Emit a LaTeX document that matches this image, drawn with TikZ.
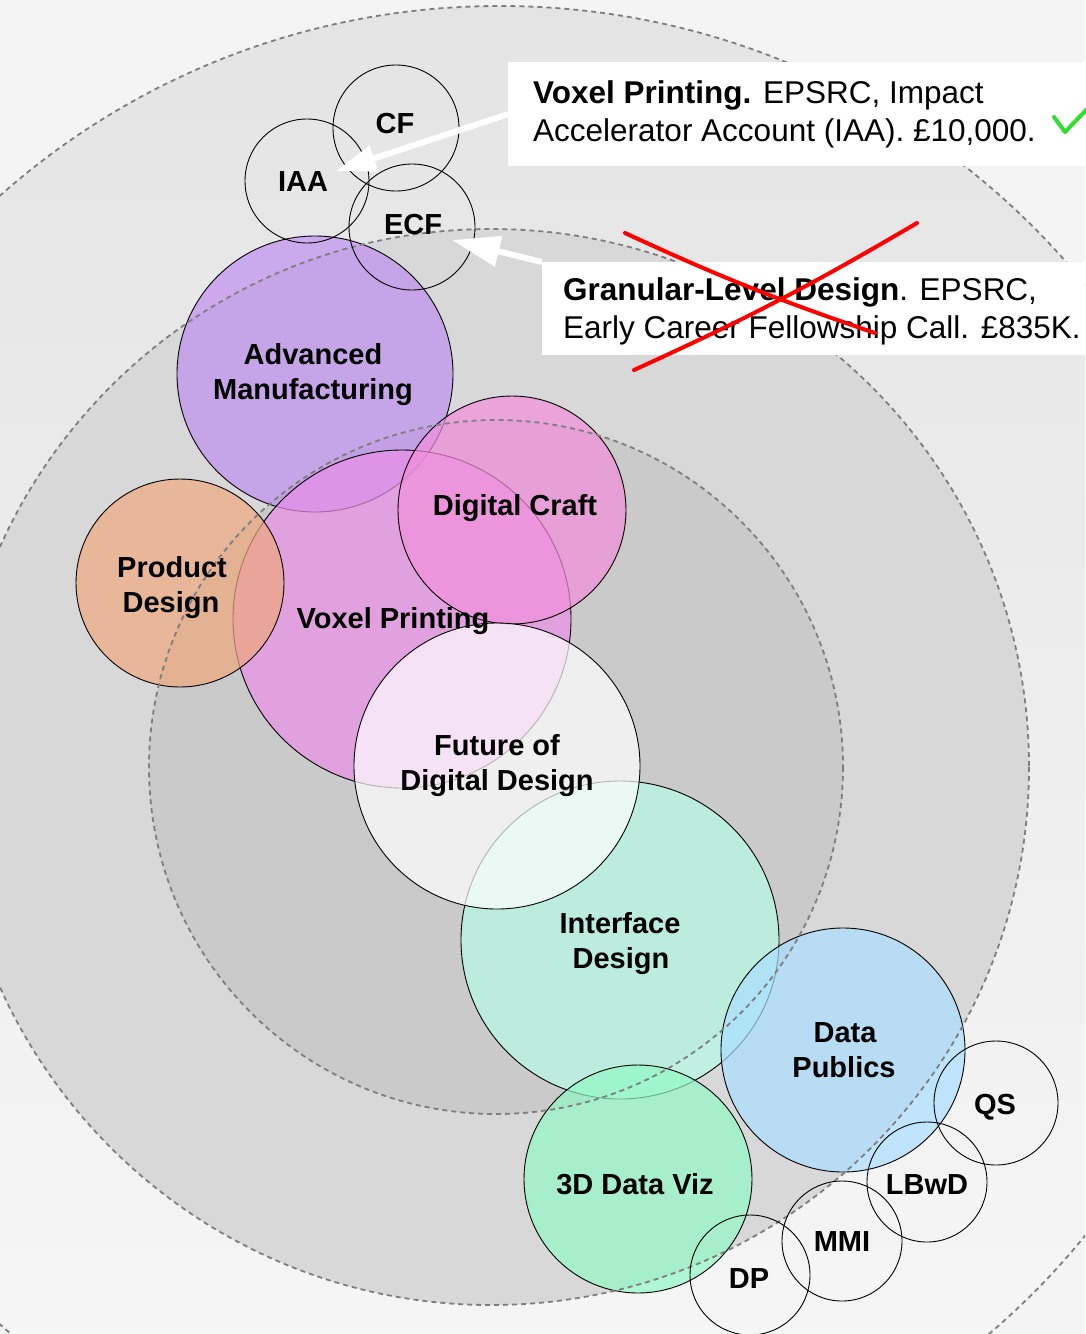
\documentclass[tikz,border=0pt]{standalone}
\usepackage{fontspec}
\setmainfont{Liberation Sans}
\usetikzlibrary{arrows.meta}
\definecolor{bgc}{HTML}{F4F4F4}
\definecolor{ringtop}{HTML}{E4E4E4}
\definecolor{ringbot}{HTML}{F8F8F8}
\definecolor{ringB}{HTML}{D8D8D8}
\definecolor{ringC}{HTML}{CACACA}
\definecolor{dashc}{HTML}{7E7E7E}
\definecolor{amc}{HTML}{BF8FEF}
\definecolor{dcc}{HTML}{F28FDC}
\definecolor{pdc}{HTML}{EFA87D}
\definecolor{vpc}{HTML}{EB90E8}
\definecolor{idc}{HTML}{B5FBE6}
\definecolor{dpc}{HTML}{A9DFFF}
\definecolor{dvc}{HTML}{92F9C5}
\definecolor{checkc}{HTML}{2EE02E}
\tikzset{
  blob/.style={circle, draw=black, line width=0.9pt, inner sep=0pt, fill opacity=0.7},
  ring/.style={draw=dashc, line width=1.8pt, dash pattern=on 5pt off 4pt},
  lab/.style={font=\fontsize{29}{35}\selectfont\bfseries, anchor=base, inner sep=0pt},
  calltext/.style={font=\fontsize{31.5}{38}\selectfont, anchor=base west, inner sep=0pt},
  callbox/.style={fill=white, inner sep=0pt, anchor=north west},
  whitearrow/.style={draw=white, line width=6pt},
  cross/.style={draw=red, line width=4pt, line cap=round}
}
\begin{document}
\begin{tikzpicture}[x=1pt,y=-1pt]
\useasboundingbox (0,0) rectangle (1085,1334);
\fill[bgc] (0,0) rectangle (1085,1334);
\begin{scope}
  \clip (0,0) rectangle (1085,1334);
  \shade[top color=ringtop, bottom color=ringbot] (500,760) circle[radius=754];
  \fill[ringB] (491,767) circle[radius=538];
  \fill[ringC] (496,767) circle[radius=347];
\end{scope}

% coloured circles
\node[blob, fill=amc, minimum size=276pt] (am) at (315,374) {};
\node[blob, fill=vpc, minimum size=338pt] (vp) at (402,619) {};
\node[blob, fill=dcc, minimum size=228pt] (dc) at (512,510) {};
\node[blob, fill=pdc, minimum size=208pt] (pd) at (180,583) {};
\node[blob, fill=idc, minimum size=318pt] (id) at (620,940) {};
\node[blob, fill=white, minimum size=286pt] (fd) at (497,766) {};
\node[blob, fill=dpc, minimum size=244pt] (dp) at (843,1050) {};
\node[blob, fill=dvc, minimum size=228pt] (dv) at (638,1179) {};

% dashed rings
\begin{scope}
  \clip (0,0) rectangle (1085,1334);
  \draw[ring] (500,760) circle[radius=754];
  \draw[ring] (491,767) circle[radius=538];
  \draw[ring] (496,767) circle[radius=347];
\end{scope}

% outline-only circles
\node[blob, minimum size=126pt] (cf) at (396,128) {};
\node[blob, minimum size=124pt] (iaa) at (307,181) {};
\node[blob, minimum size=126pt] (ecf) at (412,227) {};
\node[blob, minimum size=124pt] (qs) at (996,1103) {};
\node[blob, minimum size=120pt] (lb) at (927,1182) {};
\node[blob, minimum size=120pt] (mmi) at (842,1241) {};
\node[blob, minimum size=120pt] (dpp) at (750,1275) {};

% labels
\node[lab] (tcf) at (395,133) {CF};
\node[lab] (tiaa) at (303,191) {IAA};
\node[lab] (tecf) at (413,234) {ECF};
\node[lab] (tam1) at (313,364) {Advanced};
\node[lab] (tam2) at (313,399) {Manufacturing};
\node[lab] (tdc) at (515,515) {Digital Craft};
\node[lab] (tpd1) at (172,577) {Product};
\node[lab] (tpd2) at (171,612) {Design};
\node[lab] (tvp) at (393,628) {Voxel Printing};
\node[lab] (tfd1) at (497,755) {Future of};
\node[lab] (tfd2) at (497,790) {Digital Design};
\node[lab] (tid1) at (620,933) {Interface};
\node[lab] (tid2) at (621,968) {Design};
\node[lab] (tdp1) at (845,1042) {Data};
\node[lab] (tdp2) at (844,1077) {Publics};
\node[lab] (tdv) at (635,1194) {3D Data Viz};
\node[lab] (tqs) at (995,1114) {QS};
\node[lab] (tlb) at (927,1194) {LBwD};
\node[lab] (tmmi) at (842,1251) {MMI};
\node[lab] (tdpp) at (749,1288) {DP};

% callouts
\node[callbox, minimum width=577pt, minimum height=104pt] (box1) at (508,62) {};
\node[callbox, minimum width=543pt, minimum height=93pt] (box2) at (542,262) {};
\node[calltext] (c1a) at (533,103) {\textbf{Voxel Printing.} EPSRC, Impact};
\node[calltext] (c1b) at (533,141) {Accelerator Account (IAA). £10,000.};
\node[calltext] (c2a) at (563,300) {\textbf{Granular-Level Design}. EPSRC,};
\node[calltext] (c2b) at (563,338) {Early Career Fellowship Call. £835K.};

% arrows
\coordinate (a1tip) at (336,171);
\coordinate (a2tip) at (452,240);
\draw[whitearrow, -{Triangle[length=40pt,width=26pt,fill=white]}] (box1.west) -- (a1tip);
\draw[whitearrow, -{Triangle[length=48pt,width=30pt,fill=white]}] (box2.north west) -- (a2tip);

% red cross and green check
\draw[cross] (625,233) to[bend right=3] (875,333);
\draw[cross] (917,223) to[bend left=3] (634,370);
\draw[draw=checkc, line width=4pt, line cap=round, line join=round] (1054,117) -- (1065,132) -- (1092,104);
\end{tikzpicture}
\end{document}
